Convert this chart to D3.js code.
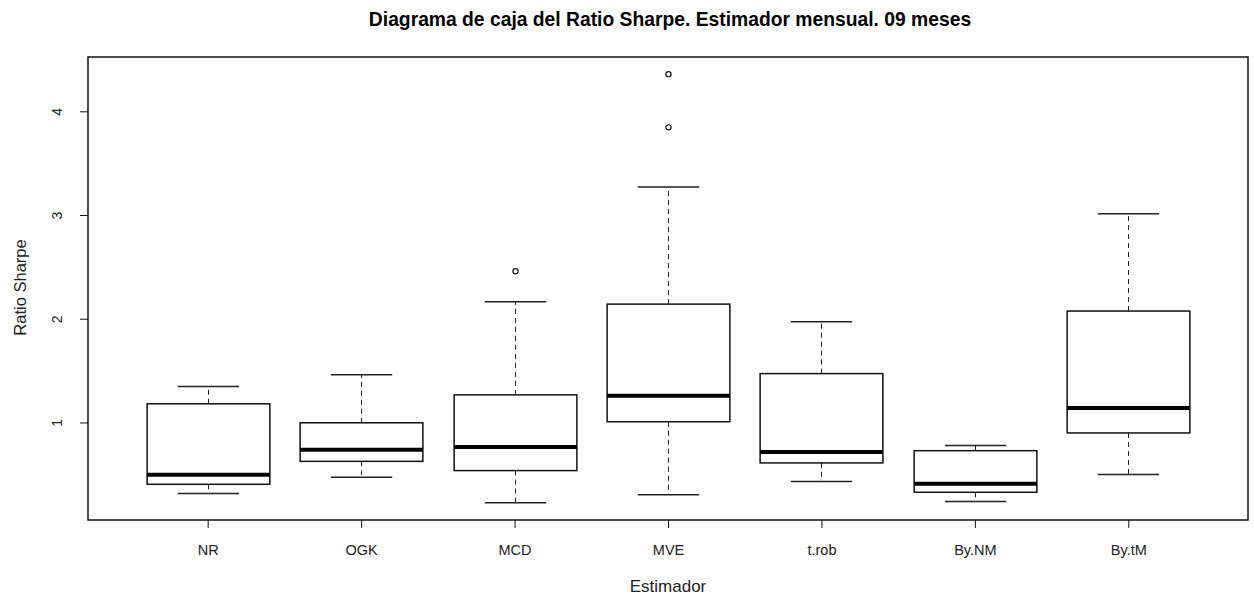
<!DOCTYPE html>
<html>
<head>
<meta charset="utf-8">
<script src="https://cdn.jsdelivr.net/npm/d3@7"></script>
<style>
    body { margin: 0; background: #fff; }
    svg { font-family: "Liberation Sans", Arial, sans-serif; }
</style>
</head>
<body>
<svg id="chart" width="1254" height="596"></svg>
<script>
// data
const categories= ["NR", "OGK", "MCD", "MVE", "t.rob", "By.NM", "By.tM"]
const lower_whisker= [0.315, 0.472, 0.225, 0.302, 0.430, 0.238, 0.498]
const q1= [0.404, 0.625, 0.536, 1.007, 0.610, 0.327, 0.899]
const medians= [0.495, 0.738, 0.764, 1.257, 0.716, 0.408, 1.139]
const q3= [1.180, 0.997, 1.266, 2.141, 1.471, 0.728, 2.074]
const upper_whisker= [1.346, 1.459, 2.163, 3.269, 1.971, 0.779, 3.013]
const outliers= [[], [], [2.458], [3.845, 4.358], [], [], []]
const y_ticks= [1, 2, 3, 4]

const title= "Diagrama de caja del Ratio Sharpe. Estimador mensual. 09 meses"
const x_title= "Estimador"
const y_title= "Ratio Sharpe"

// layout
const plot= {left: 88, right: 1248, top: 57, bottom: 520}
const svg= d3.select("#chart")

// scales (R style: 4% extension on each side)
let all_vals= lower_whisker.concat(upper_whisker, outliers.flat())
let [ymin, ymax]= d3.extent(all_vals)
let ypad= (ymax - ymin)*0.04
const y= d3.scaleLinear()
    .domain([ymin - ypad, ymax + ypad])
    .range([plot.bottom, plot.top])

let n= categories.length
let xpad= n*0.04
const x= d3.scaleLinear()
    .domain([0.5 - xpad, n + 0.5 + xpad])
    .range([plot.left, plot.right])

const box_w= x(0.8) - x(0)
const staple_w= x(0.4) - x(0)

// boxes
let groups= svg.append("g").selectAll("g")
    .data(categories)
    .join("g")

groups.each(function(cat, i) {
    let g= d3.select(this)
    let cx= Math.round(x(i + 1)) + 0.5

    // whiskers (dashed)
    g.append("line")
        .attr("x1", cx).attr("x2", cx)
        .attr("y1", y(q3[i])).attr("y2", y(upper_whisker[i]))
        .attr("stroke", "#222").attr("stroke-dasharray", "5,4")
    g.append("line")
        .attr("x1", cx).attr("x2", cx)
        .attr("y1", y(q1[i])).attr("y2", y(lower_whisker[i]))
        .attr("stroke", "#222").attr("stroke-dasharray", "5,4")

    // staples
    for (let v of [upper_whisker[i], lower_whisker[i]]) {
        g.append("line")
            .attr("x1", cx - staple_w/2).attr("x2", cx + staple_w/2)
            .attr("y1", y(v)).attr("y2", y(v))
            .attr("stroke", "#222").attr("stroke-width", 1.5)
    }

    // box
    g.append("rect")
        .attr("x", cx - box_w/2)
        .attr("y", y(q3[i]))
        .attr("width", box_w)
        .attr("height", y(q1[i]) - y(q3[i]))
        .attr("fill", "#fff")
        .attr("stroke", "#111").attr("stroke-width", 1.5)

    // median
    g.append("line")
        .attr("x1", cx - box_w/2).attr("x2", cx + box_w/2)
        .attr("y1", y(medians[i])).attr("y2", y(medians[i]))
        .attr("stroke", "#000").attr("stroke-width", 4)

    // outliers
    g.selectAll("circle")
        .data(outliers[i])
        .join("circle")
        .attr("cx", cx).attr("cy", d => y(d))
        .attr("r", 2.6)
        .attr("fill", "none")
        .attr("stroke", "#111").attr("stroke-width", 1.2)
})

// frame
svg.append("rect")
    .attr("x", plot.left).attr("y", plot.top)
    .attr("width", plot.right - plot.left)
    .attr("height", plot.bottom - plot.top)
    .attr("fill", "none")
    .attr("stroke", "#111").attr("stroke-width", 1.5)

// y axis
let y_axis= svg.append("g")
    .attr("transform", `translate(${plot.left},0)`)
    .call(d3.axisLeft(y).tickValues(y_ticks).tickSize(8).tickPadding(0).tickFormat(d3.format("d")))
y_axis.select(".domain").remove()
y_axis.selectAll(".tick line").attr("stroke", "#111")
y_axis.selectAll(".tick text")
    .attr("font-size", 14).attr("fill", "#222")
    .attr("x", 0).attr("dy", 0)
    .attr("text-anchor", "middle")
    .attr("transform", "translate(-26,0) rotate(-90)")

// x axis
let x_axis= svg.append("g")
    .attr("transform", `translate(0,${plot.bottom})`)
    .call(d3.axisBottom(x).tickValues(d3.range(1, n + 1)).tickSize(8).tickPadding(17).tickFormat(d => categories[d - 1]))
x_axis.select(".domain").remove()
x_axis.selectAll(".tick line").attr("stroke", "#111")
x_axis.selectAll(".tick text").attr("font-size", 14.5).attr("fill", "#222")

// titles
svg.append("text")
    .attr("x", (plot.left + plot.right)/2 + 2).attr("y", 26)
    .attr("text-anchor", "middle")
    .attr("font-size", 19.3).attr("font-weight", "bold")
    .text(title)

svg.append("text")
    .attr("x", (plot.left + plot.right)/2).attr("y", 592)
    .attr("text-anchor", "middle")
    .attr("font-size", 17).attr("fill", "#222")
    .text(x_title)

svg.append("text")
    .attr("transform", `translate(26,${(plot.top + plot.bottom)/2 - 1}) rotate(-90)`)
    .attr("text-anchor", "middle")
    .attr("font-size", 16.5).attr("fill", "#222")
    .text(y_title)
</script>
</body>
</html>
